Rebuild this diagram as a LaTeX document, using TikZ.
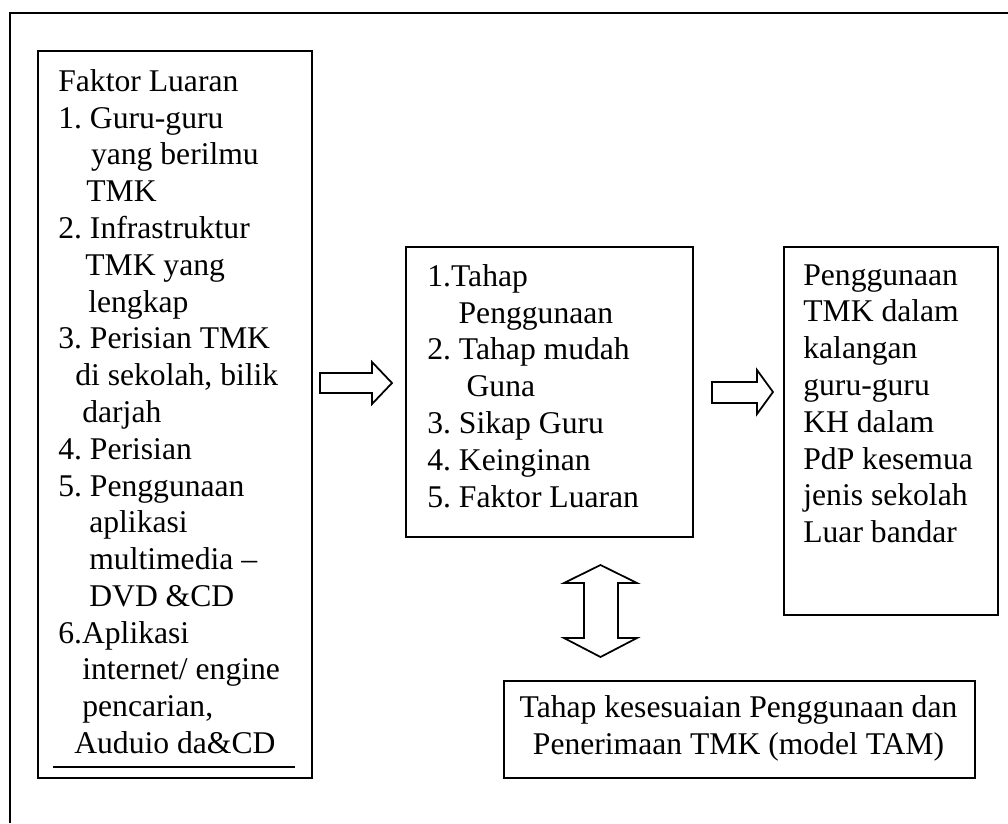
\documentclass[tikz,border=0pt]{standalone}
\usepackage{fontspec}
\setmainfont{Liberation Serif}
\frenchspacing
\begin{document}
\begin{tikzpicture}[x=0.02cm, y=-0.02cm,
    box/.style={draw, line width=1.1pt, inner sep=0pt, anchor=north west},
    txt/.style={inner sep=0pt, align=left, font=\fontsize{18}{20.94}\selectfont},
    blockarrow/.style={draw, line width=1pt, line join=miter}]

    \useasboundingbox (0, 0) rectangle (1008, 823);

    % Outer frame
    \draw[line width=1.6pt] (1008, 13) -- (10, 13) -- (10, 823);

    % Boxes
    \node[box, minimum width=5.48cm, minimum height=14.54cm] (luar) at (37, 50) {};
    \node[box, minimum width=5.74cm, minimum height=5.8cm] (tahap) at (405, 246) {};
    \node[box, minimum width=4.28cm, minimum height=7.36cm] (guna) at (783, 246) {};
    \node[box, minimum width=9.42cm, minimum height=1.94cm] (tam) at (503, 680) {};

    % Faktor luaran
    \node[txt, anchor=north west] (luarText) at (58, 69) {Faktor Luaran\\
        1. Guru-guru\\
        \hspace*{0.654cm}yang berilmu\\
        \hspace*{0.56cm}TMK\\
        2. Infrastruktur\\
        \hspace*{0.54cm}TMK yang\\
        \hspace*{0.6cm}lengkap\\
        3. Perisian TMK\\
        \hspace*{0.34cm}di sekolah, bilik\\
        \hspace*{0.48cm}darjah\\
        4. Perisian\\
        5. Penggunaan\\
        \hspace*{0.62cm}aplikasi\\
        \hspace*{0.62cm}multimedia --\\
        \hspace*{0.62cm}DVD \&CD\\
        6.Aplikasi\\
        \hspace*{0.48cm}internet/ engine\\
        \hspace*{0.48cm}pencarian,\\
        \hspace*{0.32cm}Auduio da\&CD};
    \draw[line width=1.1pt] (53, 767) -- (295, 767);

    % Tahap
    \node[txt, anchor=north west] (tahapText) at (427, 264) {1.Tahap\\
        \hspace*{0.626cm}Penggunaan\\
        2. Tahap mudah\\
        \hspace*{0.786cm}Guna\\
        3. Sikap Guru\\
        4. Keinginan\\
        5. Faktor Luaran};

    % Penggunaan TMK
    \node[txt, anchor=north west] (gunaText) at (803, 264) {Penggunaan\\
        TMK dalam\\
        kalangan\\
        guru-guru\\
        KH dalam\\
        PdP kesemua\\
        jenis sekolah\\
        Luar bandar};

    % Model TAM
    \node[txt, align=center, anchor=north] (tamText) at (738.5, 695)
        {Tahap kesesuaian Penggunaan dan\\ Penerimaan TMK (model TAM)};

    % Block arrows
    \draw[blockarrow] (320, 373) -- (372, 373) -- (372, 362) -- (392, 383)
        -- (372, 404) -- (372, 393) -- (320, 393) -- cycle;
    \draw[blockarrow] (712, 382) -- (757, 382) -- (757, 370) -- (773, 392)
        -- (757, 414) -- (757, 403) -- (712, 403) -- cycle;
    \draw[blockarrow] (600.5, 565) -- (637, 583) -- (618, 583) -- (618, 638)
        -- (637, 638) -- (600.5, 657) -- (564, 638) -- (584, 638)
        -- (584, 583) -- (564, 583) -- cycle;

\end{tikzpicture}
\end{document}
